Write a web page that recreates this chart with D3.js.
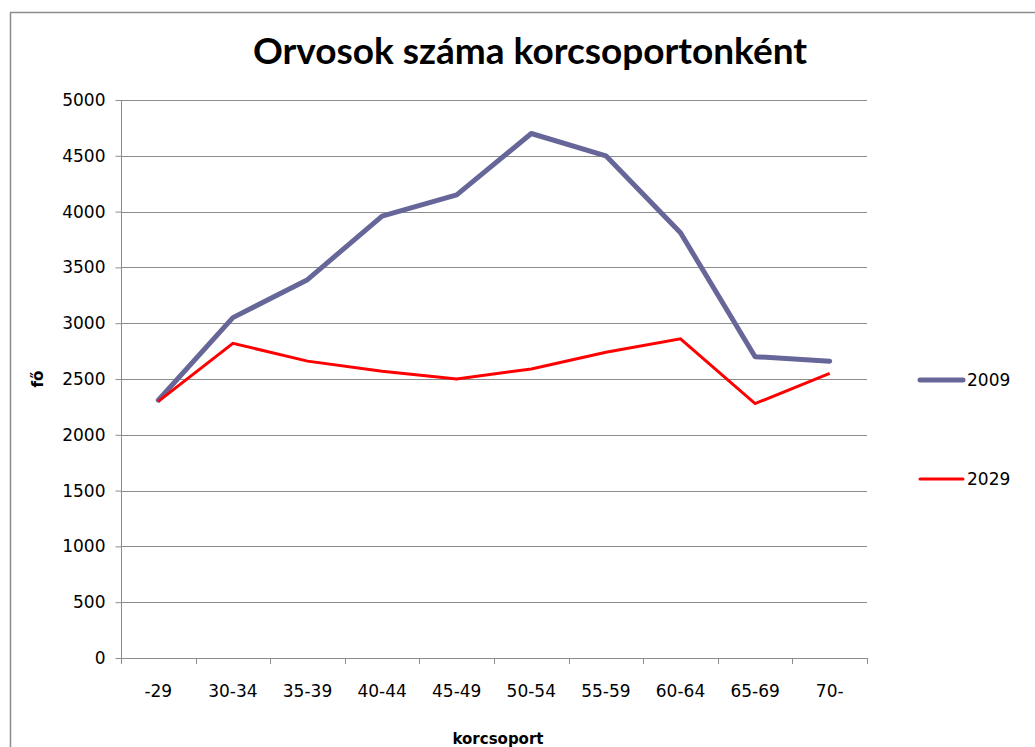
<!DOCTYPE html>
<html>
<head>
<meta charset="utf-8">
<title>Orvosok száma korcsoportonként</title>
<script src="https://cdn.jsdelivr.net/npm/d3@7"></script>
</head>
<body style="margin: 0; background: #fff;">
<svg></svg>
<script>
const width = 1035;
const height = 747;

const groups = ['-29', '30-34', '35-39', '40-44', '45-49', '50-54', '55-59', '60-64', '65-69', '70-'];
const v2009 = [2310, 3050, 3390, 3960, 4150, 4700, 4500, 3810, 2700, 2660];
const v2029 = [2300, 2820, 2660, 2570, 2500, 2590, 2740, 2860, 2280, 2550];
const yTicks = [0, 500, 1000, 1500, 2000, 2500, 3000, 3500, 4000, 4500, 5000];

const pLeft = 121, pRight = 867, pTop = 100, pBottom = 658;
const font = "'DejaVu Sans', sans-serif";

const svg = d3.select("svg")
    .attr("width", width)
    .attr("height", height)
    .style("font-family", font);

// outer chart frame
svg.append("path")
    .attr("d", `M10.5,${height} V12.5 H${width}`)
    .attr("fill", "none")
    .attr("stroke", "#8c8c8c")
    .attr("stroke-width", 1.5);

const x = d3.scaleBand().domain(groups).range([pLeft, pRight]);
const y = d3.scaleLinear().domain([0, 5000]).range([pBottom, pTop]);

// gridlines
svg.append("g")
    .selectAll("line")
    .data(yTicks.filter(d => d > 0))
    .join("line")
        .attr("x1", pLeft).attr("x2", pRight)
        .attr("y1", d => Math.round(y(d)) + .5)
        .attr("y2", d => Math.round(y(d)) + .5)
        .attr("stroke", "#8c8c8c");

// y axis
const yAxis = svg.append("g")
    .attr("transform", `translate(${pLeft + .5},0)`)
    .call(d3.axisLeft(y).tickValues(yTicks).tickSize(6).tickPadding(10).tickFormat(d3.format("d")))
    .attr("font-family", font)
    .attr("font-size", 17);
yAxis.select(".domain").attr("stroke", "#8c8c8c").attr("d", `M0,${pTop}V${pBottom}`);
yAxis.selectAll(".tick line").attr("stroke", "#8c8c8c");
yAxis.selectAll(".tick text").attr("fill", "#000");

// x axis
const xAxis = svg.append("g")
    .attr("transform", `translate(0,${pBottom + .5})`)
    .call(d3.axisBottom(x).tickSize(0).tickPadding(26))
    .attr("font-family", font)
    .attr("font-size", 17);
xAxis.select(".domain").attr("stroke", "#8c8c8c").attr("d", `M${pLeft},0H${pRight}`);
xAxis.selectAll(".tick text").attr("fill", "#000");
svg.append("g")
    .selectAll("line")
    .data(groups.map(g => x(g)).concat([pRight]))
    .join("line")
        .attr("x1", d => Math.round(d) + .5).attr("x2", d => Math.round(d) + .5)
        .attr("y1", pBottom).attr("y2", pBottom + 6)
        .attr("stroke", "#8c8c8c");

// lines
const line = d3.line()
    .x((d, i) => x(groups[i]) + x.bandwidth() / 2)
    .y(d => y(d));

svg.append("path")
    .datum(v2009)
    .attr("d", line)
    .attr("fill", "none")
    .attr("stroke", "#666699")
    .attr("stroke-width", 5)
    .attr("stroke-linejoin", "round")
    .attr("stroke-linecap", "round");

svg.append("path")
    .datum(v2029)
    .attr("d", line)
    .attr("fill", "none")
    .attr("stroke", "#ff0000")
    .attr("stroke-width", 3)
    .attr("stroke-linejoin", "miter");

// title
svg.append("text")
    .attr("x", 530).attr("y", 64)
    .attr("text-anchor", "middle")
    .attr("font-family", "Lato, sans-serif")
    .attr("font-weight", "bold")
    .attr("font-size", 37)
    .text("Orvosok száma korcsoportonként");

// axis titles
svg.append("text")
    .attr("x", 498).attr("y", 744)
    .attr("text-anchor", "middle")
    .attr("font-weight", "bold")
    .attr("font-size", 15)
    .text("korcsoport");

svg.append("text")
    .attr("transform", "translate(43,379) rotate(-90)")
    .attr("text-anchor", "middle")
    .attr("font-weight", "bold")
    .attr("font-size", 15)
    .text("fő");

// legend
const legend = [
    {name: "2009", color: "#666699", w: 5, cy: 380},
    {name: "2029", color: "#ff0000", w: 3, cy: 479}
];
const lg = svg.append("g").selectAll("g").data(legend).join("g");
lg.append("line")
    .attr("x1", 920).attr("x2", 963)
    .attr("y1", d => d.cy).attr("y2", d => d.cy)
    .attr("stroke", d => d.color)
    .attr("stroke-width", d => d.w)
    .attr("stroke-linecap", "round");
lg.append("text")
    .attr("x", 967).attr("y", d => d.cy + 6)
    .attr("font-size", 17)
    .text(d => d.name);
</script>
</body>
</html>
